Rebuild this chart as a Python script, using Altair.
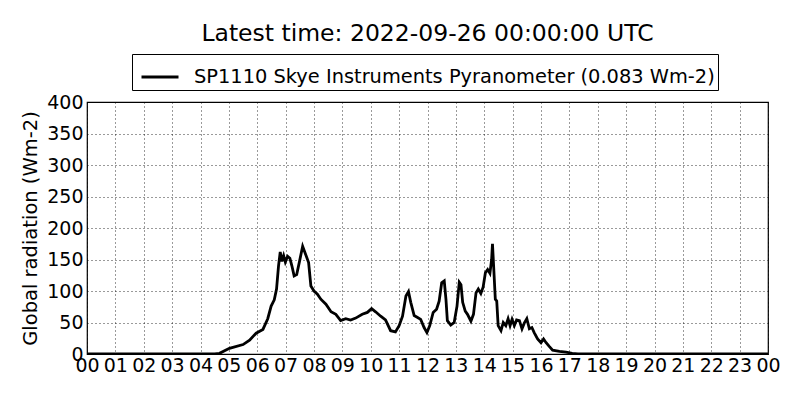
import altair as alt
import pandas as pd

hours = [0.0, 4.5, 4.67, 5.02, 5.5, 5.73, 5.96, 6.2, 6.37, 6.49, 6.6, 6.68, 6.75, 6.81, 6.87, 6.93, 6.99,
         7.07, 7.15, 7.22, 7.3, 7.39, 7.48, 7.6, 7.69, 7.81, 7.89, 8.0, 8.12, 8.24, 8.42, 8.6, 8.77, 8.94,
         9.12, 9.29, 9.47, 9.7, 9.88, 10.03, 10.17, 10.35, 10.52, 10.7, 10.87, 11.0, 11.12, 11.24, 11.33,
         11.41, 11.53, 11.65, 11.76, 11.88, 11.98, 12.08, 12.2, 12.32, 12.41, 12.5, 12.59, 12.65, 12.7,
         12.82, 12.94, 13.04, 13.12, 13.18, 13.24, 13.33, 13.41, 13.53, 13.62, 13.71, 13.79, 13.88, 13.96,
         14.04, 14.12, 14.2, 14.26, 14.29, 14.33, 14.39, 14.44, 14.49, 14.59, 14.67, 14.76, 14.84, 14.91,
         14.98, 15.06, 15.14, 15.24, 15.33, 15.41, 15.5, 15.59, 15.68, 15.76, 15.88, 16.0, 16.09, 16.18,
         16.29, 16.41, 16.65, 16.88, 17.1, 17.3, 24.0]
radiation = [0, 0, 1, 9, 15, 22, 33, 39, 56, 76, 86, 103, 140, 162, 147, 156, 146,
             155, 152, 140, 124, 126, 145, 171, 160, 145, 108, 100, 95, 87, 79, 67, 63, 53,
             56, 54, 57, 63, 66, 72, 67, 60, 54, 37, 35, 45, 60, 92, 99,
             82, 61, 58, 55, 42, 34, 45, 66, 71, 84, 113, 116, 87, 53,
             46, 50, 76, 114, 110, 82, 68, 63, 52, 63, 97, 103, 96, 106,
             129, 134, 128, 150, 175, 140, 87, 84, 45, 37, 50, 45, 56, 45,
             55, 45, 54, 53, 40, 49, 56, 40, 42, 34, 24, 18, 24, 18,
             12, 6, 4, 3, 1, 0, 0]
series_name = "SP1110 Skye Instruments Pyranometer (0.083 Wm-2)"
title_text = "Latest time: 2022-09-26 00:00:00 UTC"
x_ticks = list(range(0, 25))
y_ticks = list(range(0, 401, 50))

df = pd.DataFrame({"hour": hours, "rad": radiation, "series": series_name})

FONT = "DejaVu Sans"

chart = alt.Chart(df).mark_line(strokeWidth=2.8, clip=True).encode(
    x=alt.X("hour:Q", scale=alt.Scale(domain=[0, 24], nice=False),
            axis=alt.Axis(values=x_ticks, title=None, labelExpr="(datum.value % 24 < 10 ? '0' : '') + (datum.value % 24)",
                          labelFontSize=19, labelPadding=2, tickSize=0, domain=False,
                          grid=True, gridDash=[1, 3], gridColor="black", gridWidth=0.8,
                          labelOverlap=False, labelFlush=False, labelColor="black")),
    y=alt.Y("rad:Q", scale=alt.Scale(domain=[0, 400], nice=False),
            axis=alt.Axis(values=y_ticks, title="Global radiation (Wm-2)", titleFontSize=19.5,
                          titleFontWeight="normal", titlePadding=6, titleColor="black",
                          labelFontSize=19, labelPadding=4, tickSize=0, domain=False,
                          grid=True, gridDash=[1, 3], gridColor="black", gridWidth=0.8,
                          labelColor="black", labelOverlap=False)),
    color=alt.Color("series:N", scale=alt.Scale(domain=[series_name], range=["black"]),
                    legend=alt.Legend(title=None, orient="none", legendX=45, legendY=-48,
                                      symbolType="stroke", symbolSize=1369, symbolStrokeWidth=2.8,
                                      labelFontSize=19.4, labelFont=FONT, labelColor="black",
                                      strokeColor="black", fillColor="white", padding=3,
                                      cornerRadius=0, labelLimit=800, symbolOffset=5,
                                      labelOffset=14)),
).properties(
    width=681, height=252,
    padding={"left": 79, "top": 94, "right": 24, "bottom": 38},
    autosize=alt.AutoSizeParams(type="none"),
    title=alt.TitleParams(title_text, fontSize=23.5, font=FONT, fontWeight="normal", anchor="middle",
                          color="black", offset=8),
).configure(font=FONT).configure_view(stroke="black", strokeWidth=1.2)

chart.save("out.html", embed_options={"renderer": "svg", "actions": False})
